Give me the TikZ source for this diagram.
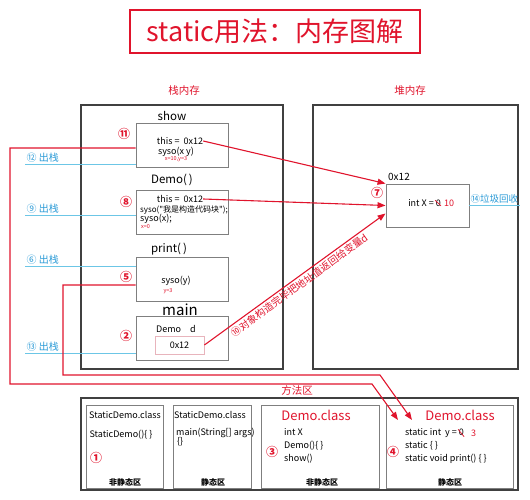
\documentclass[tikz,border=0pt]{standalone}
\usepackage{fontspec}
\setmainfont{Noto Sans CJK SC}[Ligatures=TeXOff]
\usetikzlibrary{arrows.meta}
\definecolor{memred}{HTML}{E0142C}
\definecolor{popblue}{HTML}{2A9AD6}
\definecolor{lineblue}{HTML}{6CC6E6}
\definecolor{framegray}{HTML}{7F7F7F}
\definecolor{pinkline}{HTML}{E8B4BC}

\begin{document}
\begin{tikzpicture}[x=1pt, y=-1pt, >={Triangle[length=8pt,width=6pt]},
    frame/.style={draw=framegray, line width=.9pt, minimum width=92pt, minimum height=44pt, inner sep=0pt},
    area/.style={draw=black!75, line width=1.4pt, inner sep=0pt},
    clsbox/.style={draw=framegray, line width=.9pt, inner sep=0pt, minimum height=83pt},
    fname/.style={inner sep=0pt, font=\fontsize{11.5}{13}\selectfont},
    txt/.style={inner sep=0pt, font=\fontsize{9}{10}\selectfont},
    hint/.style={inner sep=0pt, text=memred, font=\fontsize{5.5}{6}\selectfont},
    num/.style={inner sep=0pt, text=memred, font=\bfseries\fontsize{12}{13}\selectfont},
    pop/.style={anchor=south west, inner sep=1.5pt, text=popblue, font=\fontsize{10}{11}\selectfont},
    popline/.style={draw=lineblue, line width=.9pt},
    ref/.style={draw=memred, line width=1.1pt},
    strike/.style={draw=memred, line width=.7pt},
    head/.style={inner sep=0pt, text=memred, font=\fontsize{10.5}{12}\selectfont},
    zone/.style={inner sep=0pt, font=\bfseries\fontsize{8}{9}\selectfont},
    cls/.style={inner sep=0pt, text=memred, font=\fontsize{13}{14}\selectfont}]

    \useasboundingbox (0,0) rectangle (530,500);

    \node[draw=memred, line width=2.5pt, minimum width=290pt, minimum height=43pt, text=memred, font=\fontsize{27}{30}\selectfont] (title) at (275,31.5) {static用法：内存图解};

    \node[head] (stacklbl) at (184,91) {栈内存};
    \node[head] (heaplbl) at (410,91) {堆内存};
    \node[area, minimum width=202pt, minimum height=264pt] (stack) at (182,237) {};
    \node[area, minimum width=205pt, minimum height=264pt] (heap) at (415.5,237) {};

    \node[fname] (showlbl) at (172,116) {show};
    \node[frame] (showbox) at (182,145) {};
    \node[num] (n11) at (124,134) {⑪};
    \node[txt] (showthis) at (180,141) {this =\ \ 0x12};
    \node[txt] (showsyso) at (176,152) {syso(x y)};
    \node[hint] (showxy) at (176,159) {x=10,y=3};

    \node[fname] (demolbl) at (172,180) {Demo(\,)};
    \node[frame] (demobox) at (182,212.5) {};
    \node[num] (n8) at (126,202) {⑧};
    \node[txt] (demothis) at (180,199) {this =\ \ 0x12};
    \node[txt, anchor=west, font=\fontsize{8}{9}\selectfont] (demosyso) at (140,210) {syso("我是构造代码块");};
    \node[txt, anchor=west] (demox) at (140,219) {syso(x);};
    \node[hint, anchor=west] (demoxv) at (141,227) {x=0};

    \node[fname] (printlbl) at (169,249) {print(\,)};
    \node[frame] (printbox) at (182,279.5) {};
    \node[num] (n5) at (126,277) {⑤};
    \node[txt] (printsyso) at (176,281) {syso(y)};
    \node[hint] (printy) at (168,291) {y=3};

    \node[fname, font=\fontsize{15}{16}\selectfont] (mainlbl) at (180,310) {main};
    \node[frame] (mainbox) at (182,338.5) {};
    \node[num] (n2) at (126,336) {②};
    \node[txt] (mainvar) at (176,329) {Demo\quad d};
    \node[draw=pinkline, line width=.8pt, minimum width=49pt, minimum height=18pt, inner sep=0pt, font=\fontsize{9}{10}\selectfont] (dref) at (179.5,345) {0x12};

    \node[frame, minimum width=83pt, minimum height=43pt] (obj) at (427.5,205.5) {};
    \node[inner sep=0pt, font=\fontsize{10}{11}\selectfont] (objaddr) at (399,177) {0x12};
    \node[num] (n7) at (377,193) {⑦};
    \node[txt, anchor=east] (objx) at (441,203) {int X = 0};
    \node[txt, anchor=west, text=memred] (objnew) at (444,203) {10};
    \draw[strike] ([xshift=-6pt,yshift=-1pt]objx.north east) -- ([yshift=1pt]objx.south east);
    \node[pop, font=\fontsize{9.5}{11}\selectfont] (gc) at (469,205) {⑭垃圾回收};
    \draw[popline] (obj.east |- gc.south) -- (gc.south east);

    \node[pop] (pop12) at (25,164) {⑫ 出栈};
    \node[pop] (pop9) at (25,215) {⑨ 出栈};
    \node[pop] (pop6) at (25,266) {⑥ 出栈};
    \node[pop] (pop13) at (25,353) {⑬ 出栈};
    \draw[popline] (pop12.south west) -- (pop12.south west -| showbox.west);
    \draw[popline] (pop9.south west) -- (pop9.south west -| demobox.west);
    \draw[popline] (pop6.south west) -- (pop6.south west -| printbox.west);
    \draw[popline] (pop13.south west) -- (pop13.south west -| mainbox.west);

    \draw[ref,->] (showthis.east) -- (obj.north west);
    \draw[ref,->] (demothis.east) -- (obj.west);
    \draw[ref,->] (dref.east) -- node[sloped, below, inner sep=2pt, text=memred, font=\fontsize{10}{11}\selectfont] (retlbl) {⑩对象构造完毕把地址值返回给变量d} ([yshift=-8pt]obj.west);

    \node[head] (methodlbl) at (297,390) {方法区};
    \node[area, minimum width=437pt, minimum height=92pt] (method) at (299.5,444) {};
    \node[clsbox, minimum width=77pt] (cls1) at (124.5,446.5) {};
    \node[clsbox, minimum width=78pt] (cls2) at (212,446.5) {};
    \node[clsbox, minimum width=118pt] (cls3) at (320,446.5) {};
    \node[clsbox, minimum width=127pt] (cls4) at (449.5,446.5) {};

    \node[txt] (sd1) at (125,415) {StaticDemo.class};
    \node[txt] (sdctor) at (121,435) {StaticDemo()\{ \}};
    \node[num] (n1) at (96,458) {①};
    \node[zone] (z1) at (125,482) {非静态区};

    \node[txt] (sd2) at (210,415) {StaticDemo.class};
    \node[txt, anchor=west] (mainm) at (176,433) {main(String[] args)};
    \node[txt, anchor=west] (mainb) at (177,442) {\{\}};
    \node[zone] (z2) at (213,482) {静态区};

    \node[cls] (dc1) at (316,415) {Demo.class};
    \node[txt, anchor=west] (fx) at (284,432) {int X};
    \node[txt, anchor=west] (fctor) at (284,446) {Demo()\{ \}};
    \node[txt, anchor=west] (fshow) at (284,459) {show()};
    \node[num] (n3) at (272,452) {③};
    \node[zone] (z3) at (322,482) {非静态区};

    \node[cls] (dc2) at (460,415) {Demo.class};
    \node[txt, anchor=west] (fy) at (405,433) {static int\ \ y = 0};
    \node[txt, anchor=west, text=memred] (fynew) at (471,433) {3};
    \draw[strike] ([xshift=-6pt,yshift=-1pt]fy.north east) -- ([yshift=1pt]fy.south east);
    \node[txt, anchor=west] (fstat) at (405,446) {static \{ \}};
    \node[txt, anchor=west] (fprint) at (405,459) {static void print() \{ \}};
    \node[num] (n4) at (393,452) {④};
    \node[zone] (z4) at (450,482) {静态区};

    \coordinate (bendA) at (10,384);
    \coordinate (turnA) at (372,384);
    \coordinate (tipA) at (398,420);
    \coordinate (bendB) at (63,375);
    \coordinate (turnB) at (380,375);
    \coordinate (tipB) at (412,420);
    \draw[ref,->] ([yshift=-3pt]showbox.west) -| (bendA) -- (turnA) -- (tipA);
    \draw[ref,->] ([yshift=-5.5pt]printbox.west) -| (bendB) -- (turnB) -- (tipB);

\end{tikzpicture}
\end{document}
